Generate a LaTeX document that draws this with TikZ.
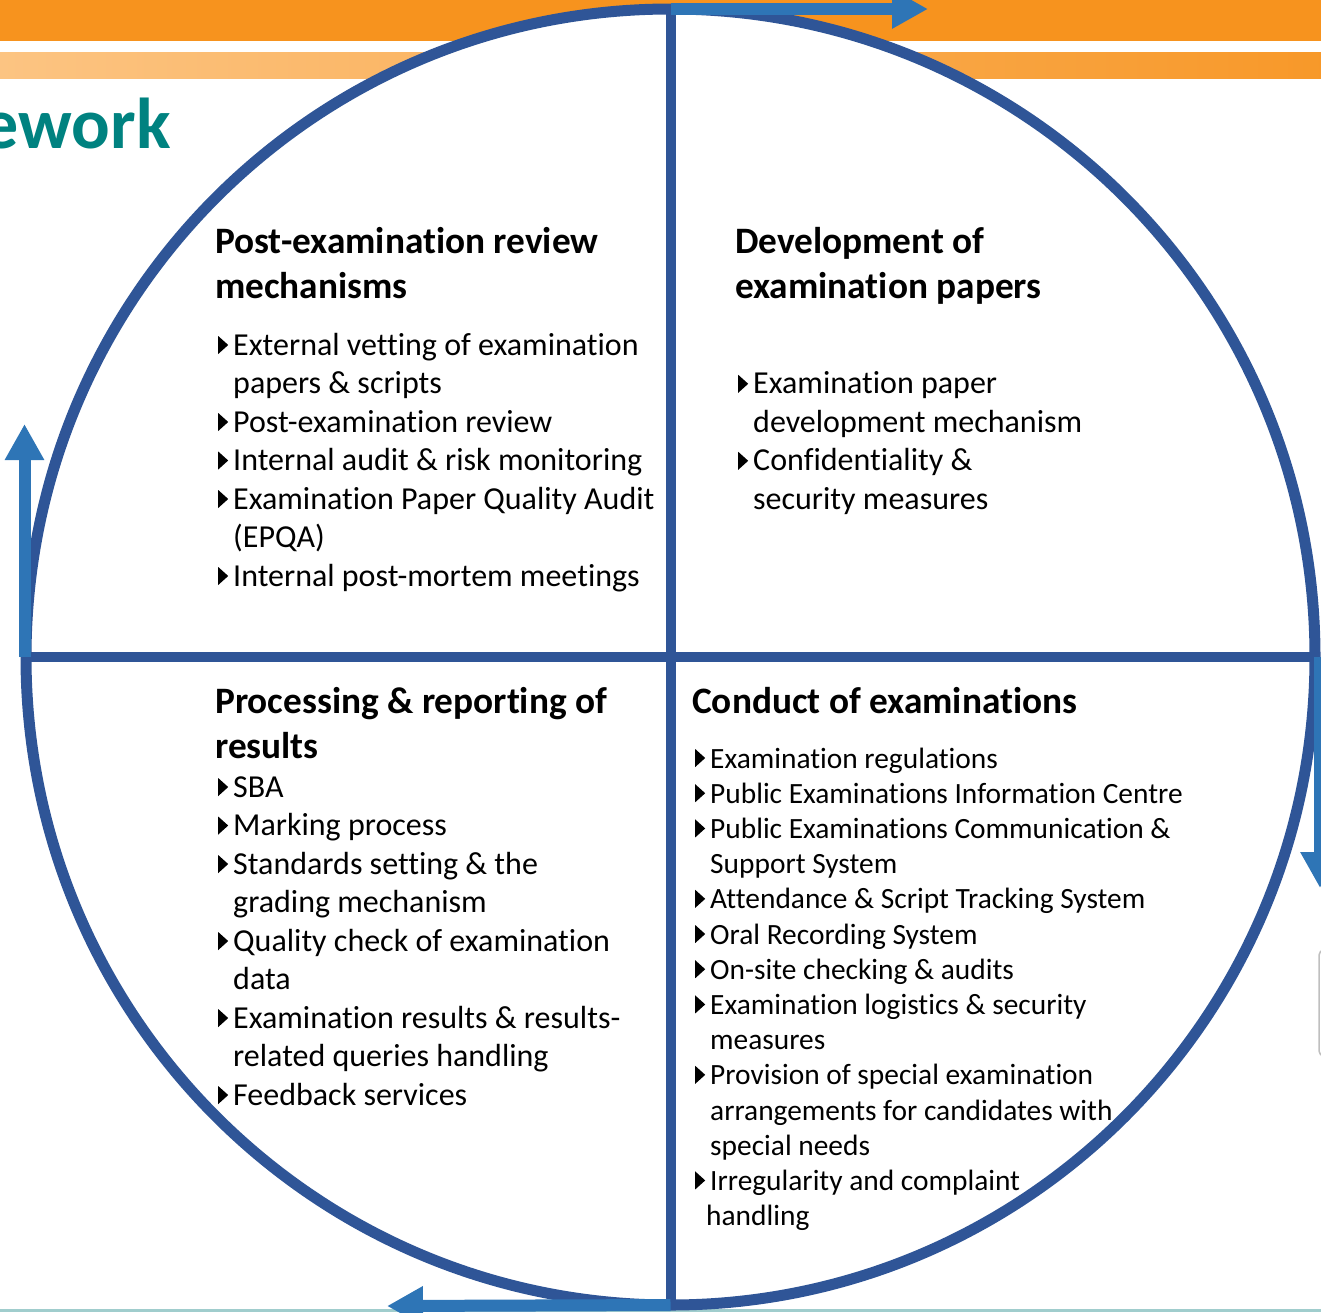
\documentclass[tikz,border=0pt]{standalone}
\usepackage{fontspec}
\setmainfont{Carlito}[Ligatures=CommonOff]
\usetikzlibrary{arrows.meta,positioning,shapes.geometric}
\definecolor{ringc}{RGB}{47,85,151}
\definecolor{flowc}{RGB}{46,117,182}
\definecolor{bandc}{RGB}{247,147,30}
\definecolor{bandlt}{RGB}{252,196,130}
\definecolor{tealtx}{RGB}{0,130,128}
\definecolor{tealln}{RGB}{160,205,205}
\newcommand\bul{\makebox[18pt][l]{\hspace{3pt}\tikz[baseline=0pt,x=1pt,y=1pt]\fill (0,1)--(0,19)--(10,10)--cycle;}}
\newcommand\cnt{\hspace*{18pt}}
\tikzset{
  ring/.style  = { draw=ringc, line width=11pt, fill=white, ellipse, inner sep=0pt, outer sep=0pt,
    minimum width=1289pt, minimum height=1296pt },
  cross/.style = { draw=ringc, line width=10pt },
  flowarr/.style = { draw=flowc, line width=12pt, -{Triangle[length=36pt,width=37pt]} },
  hd/.style    = { anchor=north west, inner sep=0pt, align=left,
    font=\bfseries\fontsize{37.3}{45}\selectfont, execute at begin node=\strut, execute at end node=\strut },
  lst/.style   = { anchor=north west, inner sep=0pt, align=left,
    font=\fontsize{32}{38.5}\selectfont, execute at begin node=\strut, execute at end node=\strut },
  lstsm/.style = { lst, font=\fontsize{29.4}{35.2}\selectfont },
  ttl/.style   = { inner sep=0pt, text=tealtx, font=\bfseries\fontsize{72}{80}\selectfont }
}
\begin{document}
\begin{tikzpicture}[x=1pt,y=-1pt]
  \useasboundingbox (0,0) rectangle (1321,1312);
  % banner
  \fill[bandc] (0,0) rectangle (1321,41);
  \shade[left color=bandlt, right color=bandc!95] (0,52) rectangle (1321,78);
  \fill[tealln] (0,1309) rectangle (1321,1312);
  \draw[gray!50, line width=1.5pt, rounded corners=5pt] (1319,950) rectangle (1360,1056);
  \node[ttl, anchor=base east] (ttl) at (171,148) {ework};

  % ring and quadrants
  \node[ring] (c) at (670.5,657) {};
  \path[cross] (c.north) edge (c.south);
  \path[cross] (c.west) edge (c.east);

  \coordinate (tTop) at (928,9);
  \coordinate (tLeft) at (24.5,424);
  \coordinate (tRight) at (1320,888);
  \coordinate (tBot) at (387,1306);
  \draw[flowarr] (c.north) -- (tTop);
  \draw[flowarr] (tLeft |- c.west) -- (tLeft);
  \draw[flowarr] (tRight |- c.east) -- (tRight);
  \draw[flowarr] (c.south) -- (tBot);

  % top left
  \node[hd] (hTL) at (215,227.5) {Post-examination review\\mechanisms};
  \node[lst, below=20pt of hTL.south west, anchor=north west] (lTL) {%
    \bul External vetting of examination\\
    \cnt papers \& scripts\\
    \bul Post-examination review\\
    \bul Internal audit \& risk monitoring\\
    \bul Examination Paper Quality Audit\\
    \cnt (EPQA)\\
    \bul Internal post-mortem meetings};

  % top right
  \node[hd] (hTR) at (735,227.5) {Development of\\examination papers};
  \node[lst, below=59pt of hTR.south west, anchor=north west] (lTR) {%
    \bul Examination paper\\
    \cnt development mechanism\\
    \bul Confidentiality \&\\
    \cnt security measures};

  % bottom left
  \node[hd] (hBL) at (215,687) {Processing \& reporting of\\results};
  \node[lst, below=4pt of hBL.south west, anchor=north west] (lBL) {%
    \bul SBA\\
    \bul Marking process\\
    \bul Standards setting \& the\\
    \cnt grading mechanism\\
    \bul Quality check of examination\\
    \cnt data\\
    \bul Examination results \& results-\\
    \cnt related queries handling\\
    \bul Feedback services};

  % bottom right
  \node[hd] (hBR) at (692,682) {Conduct of examinations};
  \node[lstsm, below=20pt of hBR.south west, anchor=north west] (lBR) {%
    \bul Examination regulations\\
    \bul Public Examinations Information Centre\\
    \bul Public Examinations Communication \&\\
    \cnt Support System\\
    \bul Attendance \& Script Tracking System\\
    \bul Oral Recording System\\
    \bul On-site checking \& audits\\
    \bul Examination logistics \& security\\
    \cnt measures\\
    \bul Provision of special examination\\
    \cnt arrangements for candidates with\\
    \cnt special needs\\
    \bul Irregularity and complaint\\
    \hspace*{14pt}handling};
\end{tikzpicture}
\end{document}
